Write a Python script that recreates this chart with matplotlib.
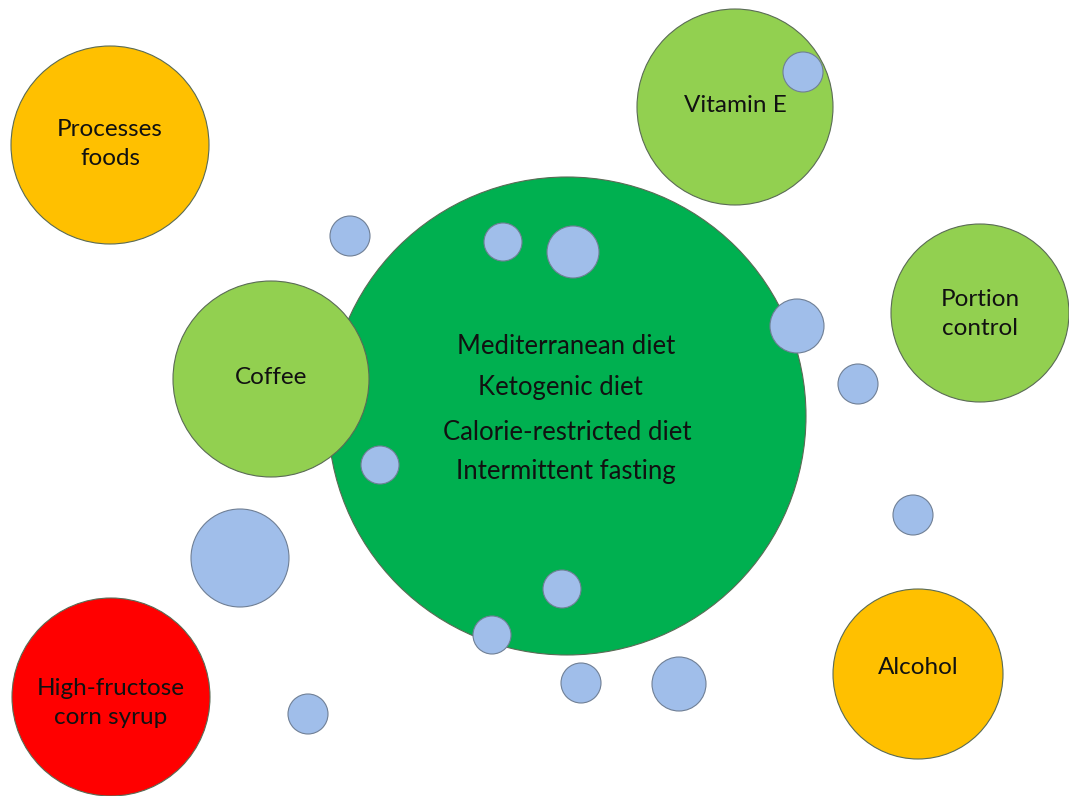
import matplotlib.pyplot as plt
from matplotlib.patches import Circle

plt.rcParams['font.family'] = ['Lato', 'DejaVu Sans']

# labelled bubbles (pixel coords of the original picture, y down)
labels = ['', 'Processes\nfoods', 'Vitamin E', 'Portion\ncontrol', 'Coffee', 'Alcohol',
          'High-fructose\ncorn syrup']
cx = [567, 110, 735, 980, 271, 918, 111]
cy = [416, 145, 107, 313, 379, 674, 697]
radius = [239, 99, 98, 89, 98, 85, 99]
fills = ['#00B050', '#FFC000', '#92D050', '#92D050', '#92D050', '#FFC000', '#FF0000']
label_y = [0, 144, 106, 314, 378, 668, 703]

# the diets written inside the big bubble
diets = ['Mediterranean diet', 'Ketogenic diet', 'Calorie-restricted diet', 'Intermittent fasting']
diet_x = [566, 560, 567, 566]
diet_y = [347, 388, 432, 472]

# small blue bubbles
blue_x = [350, 503, 573, 797, 858, 380, 240, 913, 562, 492, 581, 679, 308, 803]
blue_y = [236, 242, 252, 326, 384, 465, 558, 515, 589, 635, 683, 684, 714, 72]
blue_r = [20, 19, 26, 27, 20, 19, 49, 20, 19, 19, 20, 27, 20, 20]

fig = plt.figure(figsize=(10.69, 7.96), dpi=100)
ax = fig.add_axes([0, 0, 1, 1])
ax.set_xlim(0, 1069)
ax.set_ylim(796, 0)
ax.set_aspect('equal')
ax.axis('off')

for i, (x, y, r, c, lab, ly) in enumerate(zip(cx, cy, radius, fills, labels, label_y)):
    ax.add_patch(Circle((x, y), r, facecolor=c, edgecolor='#5a6b55', lw=0.8, zorder=2 + (i > 0)))
    if lab:
        ax.text(x, ly, lab, ha='center', va='center', fontsize=17.5,
                linespacing=1.5, color='#111111', zorder=5)

for t, x, y in zip(diets, diet_x, diet_y):
    ax.text(x, y, t, ha='center', va='center', fontsize=18.5, color='#111111', zorder=5)

for x, y, r in zip(blue_x, blue_y, blue_r):
    ax.add_patch(Circle((x, y), r, facecolor='#A0BEEA', edgecolor='#6f7f95', lw=0.8, zorder=4))

fig.savefig('out.png', dpi=100)
